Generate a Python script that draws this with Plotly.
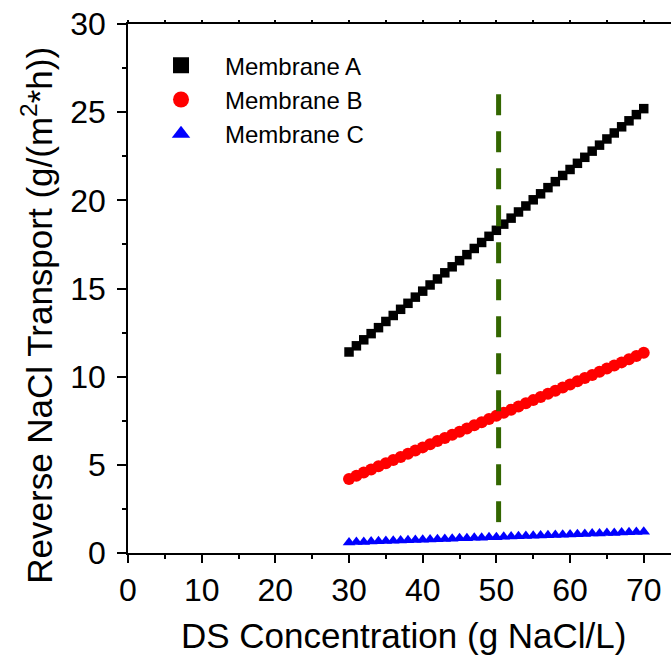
import plotly.graph_objects as go

conc = list(range(30, 71))

membrane_a = [11.40, 11.75, 12.09, 12.44, 12.78, 13.13, 13.47, 13.82, 14.16, 14.51,
              14.85, 15.20, 15.54, 15.89, 16.23, 16.58, 16.92, 17.27, 17.61, 17.96,
              18.30, 18.65, 18.99, 19.34, 19.68, 20.03, 20.37, 20.72, 21.06, 21.41,
              21.75, 22.10, 22.44, 22.79, 23.13, 23.48, 23.82, 24.17, 24.51, 24.86,
              25.20]
membrane_b = [4.20, 4.38, 4.56, 4.74, 4.92, 5.09, 5.27, 5.45, 5.63, 5.81,
              5.99, 6.17, 6.35, 6.52, 6.70, 6.88, 7.06, 7.24, 7.42, 7.60,
              7.78, 7.95, 8.13, 8.31, 8.49, 8.67, 8.85, 9.03, 9.20, 9.38,
              9.56, 9.74, 9.92, 10.10, 10.28, 10.46, 10.63, 10.81, 10.99, 11.17,
              11.35]
membrane_c = [0.60, 0.62, 0.63, 0.65, 0.66, 0.68, 0.69, 0.71, 0.72, 0.74,
              0.75, 0.77, 0.78, 0.80, 0.81, 0.83, 0.84, 0.86, 0.87, 0.89,
              0.90, 0.92, 0.93, 0.95, 0.96, 0.98, 0.99, 1.01, 1.02, 1.04,
              1.05, 1.07, 1.08, 1.10, 1.11, 1.13, 1.14, 1.16, 1.17, 1.19,
              1.20]

marker_x = [50.3, 50.3]
marker_y = [1.75, 26.5]

names = ["Membrane A", "Membrane B", "Membrane C"]
colors = ["#000000", "#ff0000", "#0000ff"]
symbols = ["square", "circle", "triangle-up"]
plot_sizes = [9.5, 12, 11]
legend_sizes = [16, 17, 18]
series = [membrane_a, membrane_b, membrane_c]

FONT = "Liberation Sans, Arial, sans-serif"

fig = go.Figure()

for name, col, sym, ps, ys in zip(names, colors, symbols, plot_sizes, series):
    fig.add_trace(go.Scatter(x=conc, y=ys, mode="markers", showlegend=False,
                             marker=dict(symbol=sym, size=ps, color=col, line=dict(width=0))))

fig.add_trace(go.Scatter(x=marker_x, y=marker_y, mode="lines", showlegend=False,
                         line=dict(color="#336600", width=5, dash="21px,16px")))

for name, col, sym, ls in zip(names, colors, symbols, legend_sizes):
    fig.add_trace(go.Scatter(x=[None], y=[None], mode="markers", name=name,
                             marker=dict(symbol=sym, size=ls, color=col, line=dict(width=0))))

W, H = 671, 661
L, R, T, B = 128, 0, 24, 108

axis_common = dict(showline=True, linecolor="black", linewidth=1.5, ticks="outside",
                   tickcolor="black", tickwidth=1.5, showgrid=False, zeroline=False,
                   tickfont=dict(family=FONT, size=32, color="black"))

fig.update_layout(
    width=W, height=H,
    margin=dict(l=L, r=R, t=T, b=B),
    paper_bgcolor="white", plot_bgcolor="white",
    font=dict(family=FONT, color="black"),
    xaxis=dict(range=[0, 73.7], tickvals=[0, 10, 20, 30, 40, 50, 60, 70], ticklen=8,
               minor=dict(dtick=5, tick0=0, ticks="outside", ticklen=4, tickcolor="black", tickwidth=1.5),
               mirror=True, **axis_common),
    xaxis2=dict(range=[0, 73.7], overlaying="x", side="top", showline=False, ticks="outside",
                ticklen=3, tickcolor="black", tickwidth=1.5, dtick=5, tick0=0,
                showticklabels=False, showgrid=False, zeroline=False),
    yaxis=dict(range=[0, 30], tickvals=[0, 5, 10, 15, 20, 25, 30], ticklen=9,
               ticklabelstandoff=5,
               minor=dict(dtick=2.5, tick0=0, ticks="outside", ticklen=4, tickcolor="black", tickwidth=1.5),
               **axis_common),
    legend=dict(x=0.0166, y=0.9637, xanchor="left", yanchor="top", itemwidth=78,
                bgcolor="rgba(0,0,0,0)", font=dict(family=FONT, size=24, color="black"),
                tracegroupgap=0),
    showlegend=True,
    annotations=[
        dict(text="DS Concentration (g NaCl/L)", xref="paper", yref="paper",
             x=0.508, y=-0.1558, xanchor="center", yanchor="middle", showarrow=False,
             font=dict(family=FONT, size=35, color="black")),
        dict(text="Reverse NaCl Transport (g/(m<sup>2</sup>*h))", xref="paper", yref="paper",
             x=-0.1676, y=0.4504, xanchor="center", yanchor="middle", showarrow=False,
             textangle=-90, font=dict(family=FONT, size=35, color="black")),
    ],
)

# invisible trace that activates the top axis
fig.add_trace(go.Scatter(x=[None], y=[None], xaxis="x2", yaxis="y", showlegend=False))

fig.write_html("out.html")
